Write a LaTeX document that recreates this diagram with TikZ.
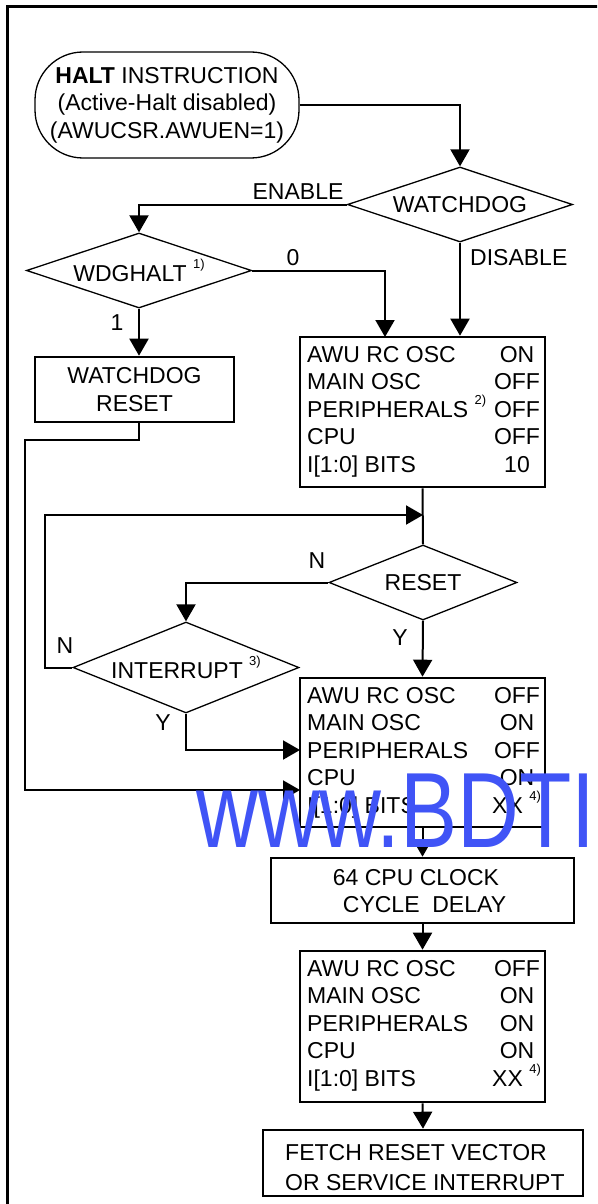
\documentclass[tikz,border=0pt]{standalone}
\usepackage{fontspec}
\setmainfont{Liberation Sans}
\usetikzlibrary{arrows.meta,shapes.geometric}
\definecolor{wmblue}{RGB}{64,84,246}
\newcommand\supnote[1]{\raisebox{0.55em}{\fontsize{13}{13}\selectfont #1}}
\newcommand\stbox[8]{%
  \node[lab] (#1la) at (307,{#2+25}) {AWU RC OSC};
  \node[lab] (#1lb) at (307,{#2+52.5}) {MAIN OSC};
  \node[lab] (#1lc) at (307,{#2+80}) {#7};
  \node[lab] (#1ld) at (307,{#2+107.5}) {CPU};
  \node[lab] (#1le) at (307,{#2+135}) {I[1:0] BITS};
  \node[val] (#1va) at (517,{#2+25}) {#3};
  \node[val] (#1vb) at (517,{#2+52.5}) {#4};
  \node[val] (#1vc) at (517,{#2+80}) {#5};
  \node[val] (#1vd) at (517,{#2+107.5}) {#6};
  #8%
}
\begin{document}
\begin{tikzpicture}[x=1pt,y=-1pt,
  every node/.style={font=\fontsize{23}{27.5}\selectfont},
  ln/.style={line width=2pt},
  arr/.style={line width=2pt,-{Triangle[width=19pt,length=17pt]}},
  stbx/.style={draw,line width=2.6pt,rectangle,inner sep=0pt},
  dia/.style={draw,line width=1.3pt,diamond,inner sep=0pt},
  lab/.style={anchor=base west,inner sep=0pt},
  val/.style={anchor=base,inner sep=0pt},
  txt/.style={inner sep=0pt}]
\useasboundingbox (0,0) rectangle (597,1204);
\clip (0,0) rectangle (597,1204);
% frame
\draw[line width=3pt] (7,1210) -- (7,7) -- (600,7);

% start
\node[draw,line width=1.3pt,rounded corners=48pt,minimum width=264pt,minimum height=106pt,
  align=center,inner sep=0pt] (start) at (167,105)
  {\textbf{HALT} INSTRUCTION\\(Active-Halt disabled)\\(AWUCSR.AWUEN=1)};

% decisions
\node[dia,minimum width=225pt,minimum height=75pt,aspect=3] (wd) at (460,204.5) {WATCHDOG};
\node[dia,minimum width=225pt,minimum height=75pt,aspect=3] (wdh) at (139,270.5) {WDGHALT \supnote{1)}};
\node[dia,minimum width=188pt,minimum height=75pt,aspect=2.5] (rs) at (423,582.5) {RESET};
\node[dia,minimum width=226pt,minimum height=91pt,aspect=2.48] (int) at (186,667.5) {INTERRUPT \supnote{3)}};

% boxes
\node[stbx,minimum width=199pt,minimum height=65pt,align=center] (wr) at (134.5,389.5) {WATCHDOG\\RESET};
\node[stbx,minimum width=245pt,minimum height=150pt] (b1) at (422.5,412) {};
\node[stbx,minimum width=245pt,minimum height=149pt] (b2) at (422.5,752.5) {};
\node[stbx,minimum width=303pt,minimum height=65pt] (b3) at (422.5,890.5) {};
\node[stbx,minimum width=245pt,minimum height=151pt] (b4) at (422.5,1026.5) {};
\node[stbx,minimum width=320pt,minimum height=66pt] (b5) at (423,1163) {};

\stbox{b1}{337}{ON}{OFF}{OFF}{OFF}{PERIPHERALS \supnote{2)}}{\node[val] (b1ve) at (517,{337+135}) {10};}
\stbox{b2}{678}{OFF}{ON}{OFF}{ON}{PERIPHERALS}{\node[lab] (b2ve) at (492,{678+135}) {XX \supnote{4)}};}
\stbox{b4}{951}{OFF}{ON}{ON}{ON}{PERIPHERALS}{\node[lab] (b4ve) at (492,{951+135}) {XX \supnote{4)}};}

\node[txt,anchor=base] (b3a) at (416,885) {64 CPU CLOCK};
\node[txt,anchor=base] (b3b) at (424.5,912) {CYCLE\ \ DELAY};
\node[lab] (b5a) at (285,1160) {FETCH RESET VECTOR};
\node[lab] (b5b) at (285,1190) {OR SERVICE INTERRUPT};

% labels
\node[txt,anchor=base] (lenable) at (298,199) {ENABLE};
\node[txt,anchor=base west] (ldisable) at (470,265) {DISABLE};
\node[txt,anchor=base] (lzero) at (293,265) {0};
\node[txt,anchor=base] (lone) at (117,330) {1};
\node[txt,anchor=base] (lrn) at (317,568) {N};
\node[txt,anchor=base] (lry) at (400,645) {Y};
\node[txt,anchor=base] (lin) at (65,653) {N};
\node[txt,anchor=base] (liy) at (163,730) {Y};

% coordinates
\coordinate (b1in0) at (385,337);
\coordinate (wrturn) at (139,440);
\coordinate (wrleft) at (25,440);
\coordinate (wrlow) at (25,790);
\coordinate (b2wr) at (300,790);
\coordinate (loopj) at (423,515);
\coordinate (ilft) at (45,667.5);
\coordinate (b2y) at (300,750);

% connectors
\draw[arr] (start.east) -| (wd.north);
\draw[arr] (wd.west) -| (wdh.north);
\draw[arr] (wd.south) -- (wd.south |- b1.north);
\draw[arr] (wdh.east) -| (b1in0);
\draw[arr] (wdh.south) -- (wdh.south |- wr.north);
\draw[arr] (wdh.south |- wr.south) -- (wrturn) -- (wrleft) -- (wrlow) -- (b2wr);
\draw[ln] (b1.south) -- (rs.north);
\draw[arr] (int.west) -- (ilft) |- (loopj);
\draw[arr] (rs.west) -| (int.north);
\draw[arr] (rs.south) -- (b2.north);
\draw[arr] (int.south) |- (b2y);
\draw[arr] (b2.south) -- (b3.north);
\draw[arr] (b3.south) -- (b4.north);
\draw[arr] (b4.south) -- (b5.north);

% watermark
\node[anchor=base west,inner sep=0pt,text=wmblue,font=\fontsize{107}{107}\selectfont] (wm) at (196,847)
  {\scalebox{0.80}[1]{www.BDTI}};
\end{tikzpicture}
\end{document}
